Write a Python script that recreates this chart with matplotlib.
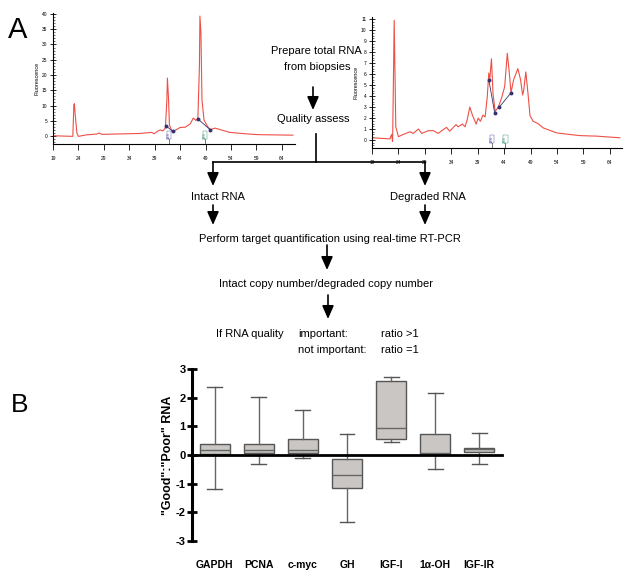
import matplotlib
matplotlib.use("Agg")
import matplotlib.pyplot as plt
from matplotlib.ticker import MultipleLocator

plt.rcParams['font.family'] = ['Liberation Sans', 'DejaVu Sans']
plt.rcParams['axes.unicode_minus'] = False

# ---------------- data ----------------
# electropherogram, intact RNA (time s, fluorescence)
intact_time = [19.0, 22.9, 23.1, 23.2, 23.4, 23.7, 24.0, 25.6, 27.6, 28.1, 28.6, 30.9, 33.5, 36.1,
               38.4, 38.9, 39.5, 40.1, 40.6, 41.1, 41.4, 41.5, 41.7, 41.9, 42.4, 43.0, 44.0, 45.0,
               46.0, 46.6, 47.1, 47.5, 47.8, 47.9, 48.1, 48.3, 48.7, 49.3, 49.9, 50.9, 51.9, 53.8,
               55.8, 58.4, 59.7, 61.7, 64.0, 66.2]
intact_fluor = [0.1, -0.1, 10.2, 10.6, 6.4, 1.0, -0.1, 0.4, 0.65, 1.0, 0.55, 0.65, 0.75, 0.85,
                1.2, 0.75, 1.5, 2.0, 1.7, 2.6, 11.9, 19.0, 13.0, 3.7, 1.5, 1.85, 2.8, 2.9,
                4.0, 5.9, 5.1, 5.9, 22.8, 39.3, 33.7, 11.9, 5.3, 3.4, 2.1, 2.6, 2.1, 1.2,
                0.9, 0.55, 0.45, 0.4, 0.35, 0.3]
intact_mark_t = [[41.2, 42.6], [47.5, 49.9]]
intact_mark_f = [[3.3, 1.6], [5.6, 2.1]]

# electropherogram, degraded RNA
degr_time = [19.0, 22.4, 22.7, 22.9, 23.2, 23.5, 24.0, 24.9, 26.2, 26.8, 27.8, 28.4, 29.7, 30.6,
             31.5, 33.1, 33.7, 34.9, 35.3, 36.1, 36.6, 37.0, 37.5, 38.0, 38.7, 39.1, 39.5, 40.0,
             40.4, 40.8, 41.1, 41.3, 41.6, 41.9, 42.3, 42.9, 43.5, 44.1, 44.6, 45.0, 45.3, 45.8,
             46.6, 47.1, 47.5, 47.7, 48.1, 48.5, 48.9, 49.5, 50.4, 51.4, 53.9, 56.4, 58.3, 61.5,
             65.9]
degr_fluor = [0.2, 0.1, 0.5, -0.15, 10.9, 1.2, 0.3, 0.5, 0.75, 0.6, 1.0, 0.6, 0.85, 0.85,
              0.6, 1.15, 0.8, 1.4, 1.2, 1.45, 1.2, 1.82, 3.0, 2.27, 1.45, 2.0, 1.7, 2.27,
              2.1, 3.9, 6.1, 5.6, 7.4, 4.2, 2.6, 3.0, 3.8, 4.85, 7.9, 6.0, 4.3, 5.5,
              6.5, 5.5, 4.1, 4.5, 6.2, 4.3, 2.2, 1.7, 1.5, 1.1, 0.65, 0.5, 0.4, 0.35,
              0.2]
degr_mark_t = [[41.1, 42.2], [43.1, 45.3]]
degr_mark_f = [[5.5, 2.5], [3.0, 4.3]]

time_ticks = [19, 24, 29, 34, 39, 44, 49, 54, 59, 64]
ladder_labels = ["18S", "28S"]
intact_ladder_t = [41.8, 48.9]
degr_ladder_t = [41.7, 44.2]

# box plot, "Good":"Poor" RNA
genes = ["GAPDH", "PCNA", "c-myc", "GH", "IGF-I", "1\u03b1-OH", "IGF-IR"]
whisker_low = [-1.18, -0.31, -0.12, -2.32, 0.44, -0.49, -0.31]
q1 = [0.04, 0.08, 0.06, -1.16, 0.55, 0.05, 0.12]
median = [0.17, 0.17, 0.19, -0.69, 0.93, 0.08, 0.20]
q3 = [0.37, 0.37, 0.55, -0.13, 2.57, 0.73, 0.25]
whisker_high = [2.38, 2.01, 1.58, 0.74, 2.72, 2.17, 0.78]

# ---------------- figure ----------------
W, H = 640, 584
fig = plt.figure(figsize=(6.4, 5.84), dpi=100)
fig.patch.set_facecolor('white')


def px_axes(left, top, right, bottom):
    return fig.add_axes([left / W, 1 - bottom / H, (right - left) / W, (bottom - top) / H])


red = '#ee5047'
navy = '#33336e'


def electro(ax, t, f, mt, mf, lad_t, ylim, ymaj, ymin, xmax):
    ax.plot(t, f, color=red, lw=0.8)
    for a, b in zip(mt, mf):
        ax.plot(a, b, color=navy, lw=0.6, marker='o', ms=1.8)
    ax.set_xlim(19, xmax)
    ax.set_ylim(*ylim)
    for s in ['top', 'right']:
        ax.spines[s].set_visible(False)
    for s in ['left', 'bottom']:
        ax.spines[s].set_linewidth(0.8)
    ax.set_xticks(time_ticks)
    ax.yaxis.set_major_locator(MultipleLocator(ymaj))
    ax.yaxis.set_minor_locator(MultipleLocator(ymin))
    ax.tick_params(axis='x', direction='out', length=4, width=0.6, labelsize=3.5, pad=5)
    ax.tick_params(axis='y', which='major', direction='inout', length=4, width=0.6, labelsize=3.5, pad=2)
    ax.tick_params(axis='y', which='minor', direction='in', length=1.5, width=0.4)
    ax.set_ylabel('Fluorescence', fontsize=4, labelpad=2)
    cols = ['#4a4aa0', '#2f8a6a']
    for x, lab, c in zip(lad_t, ladder_labels, cols):
        ax.plot([x, x], [ylim[0], ylim[0] + (ylim[1] - ylim[0]) * 0.035], color='#444', lw=0.5)
        ax.text(x, ylim[0] + (ylim[1] - ylim[0]) * 0.04, lab, rotation=90, fontsize=2.8,
                color=c, ha='center', va='bottom',
                bbox=dict(boxstyle='square,pad=0.1', fc='white', ec=c, lw=0.3))


axL = px_axes(53, 13, 295, 144)
electro(axL, intact_time, intact_fluor, intact_mark_t, intact_mark_f, intact_ladder_t,
        (-2.6, 40.3), 5, 1, 66.6)
axR = px_axes(372, 17, 622, 148)
electro(axR, degr_time, degr_fluor, degr_mark_t, degr_mark_f, degr_ladder_t,
        (-0.73, 11.2), 1, 0.25, 66.3)

# ---------------- box plot ----------------
axB = px_axes(192, 369, 502, 541)
stats = []
for i in range(len(genes)):
    stats.append(dict(whislo=whisker_low[i], q1=q1[i], med=median[i], q3=q3[i],
                      whishi=whisker_high[i], fliers=[], label=genes[i]))
axB.bxp(stats, positions=list(range(len(genes))), widths=0.68, patch_artist=True,
        showfliers=False,
        boxprops=dict(facecolor='#c9c6c3', edgecolor='#555555', lw=1.0),
        whiskerprops=dict(color='#666666', lw=1.0),
        capprops=dict(color='#555555', lw=1.0),
        medianprops=dict(color='#666666', lw=1.0))
axB.set_xlim(-0.52, 6.52)
axB.set_ylim(-3, 3)
axB.spines['top'].set_visible(False)
axB.spines['right'].set_visible(False)
axB.spines['bottom'].set_position(('data', 0))
axB.spines['bottom'].set_linewidth(2.0)
axB.spines['bottom'].set_zorder(5)
axB.spines['left'].set_linewidth(2.2)
axB.set_xticks([])
axB.set_yticks([-3, -2, -1, 0, 1, 2, 3])
axB.tick_params(axis='y', direction='inout', length=7, width=2, labelsize=8, pad=1)
for lab in axB.get_yticklabels():
    lab.set_fontweight('bold')
axB.set_ylabel('"Good":"Poor" RNA', fontsize=9, fontweight='bold', labelpad=1)
for i, g in enumerate(genes):
    axB.text(i, -3.84, g, ha='center', va='center', fontsize=7.5, fontweight='bold',
             clip_on=False)

# ---------------- flow chart overlay ----------------
ov = fig.add_axes([0, 0, 1, 1], zorder=10)
ov.set_xlim(0, W)
ov.set_ylim(H, 0)
ov.axis('off')
ov.patch.set_alpha(0)

fs = 8


def arrow(x, y0, y1):
    ov.annotate('', xy=(x, y1), xytext=(x, y0),
                arrowprops=dict(arrowstyle='-|>,head_length=0.8,head_width=0.35', color='k',
                                lw=1.2, shrinkA=0, shrinkB=0, mutation_scale=10))


ov.text(316, 51, 'Prepare total RNA', fontsize=fs, ha='center', va='center')
ov.text(317, 67, 'from biopsies', fontsize=fs, ha='center', va='center')
arrow(313, 87, 110)
ov.text(313, 119, 'Quality assess', fontsize=fs, ha='center', va='center')
ov.plot([316, 316], [134, 162], color='k', lw=1.2)
ov.plot([213, 425], [162, 162], color='k', lw=1.2)
arrow(213, 162, 186)
arrow(425, 162, 186)
ov.text(218, 197, 'Intact RNA', fontsize=fs, ha='center', va='center')
ov.text(428, 197, 'Degraded RNA', fontsize=fs, ha='center', va='center')
arrow(213, 205, 225)
arrow(425, 205, 225)
ov.text(330, 239, 'Perform target quantification using real-time RT-PCR', fontsize=fs,
        ha='center', va='center')
arrow(327, 245, 270)
ov.text(326, 284, 'Intact copy number/degraded copy number', fontsize=fs,
        ha='center', va='center')
arrow(328, 295, 319)
ov.text(216, 334, 'If RNA quality', fontsize=fs, ha='left', va='center')
ov.text(298, 334, 'important:', fontsize=fs, ha='left', va='center')
ov.text(381, 334, 'ratio >1', fontsize=fs, ha='left', va='center')
ov.text(298, 350, 'not important:', fontsize=fs, ha='left', va='center')
ov.text(381, 350, 'ratio =1', fontsize=fs, ha='left', va='center')

ov.text(18, 30, 'A', fontsize=21, ha='center', va='center')
ov.text(20, 405, 'B', fontsize=19, ha='center', va='center')

fig.savefig('out.png', dpi=100)
